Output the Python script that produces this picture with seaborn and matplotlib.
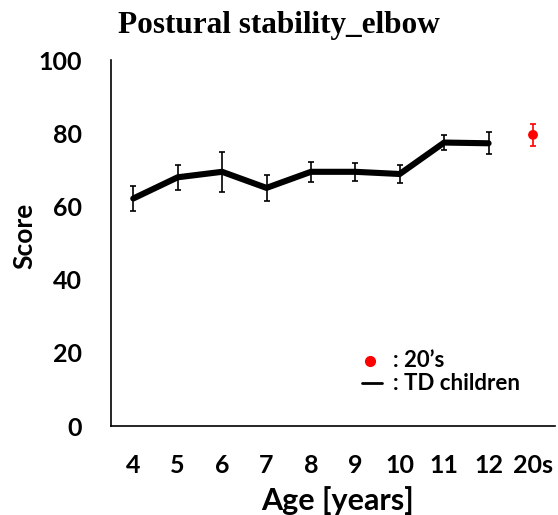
import matplotlib
matplotlib.use("Agg")
import matplotlib.pyplot as plt
import seaborn as sns
import pandas as pd
import numpy as np

ages = ["4", "5", "6", "7", "8", "9", "10", "11", "12"]
td_mean = [62.2, 68.0, 69.5, 65.1, 69.5, 69.5, 68.9, 77.5, 77.3]
td_err = [3.3, 3.4, 5.4, 3.6, 2.7, 2.4, 2.4, 2.0, 3.0]
adult_label = "20s"
adult_mean = [79.6]
adult_err = [3.0]
yticks = [0, 20, 40, 60, 80, 100]

sns.set_theme(style="white")
plt.rcParams['font.family'] = ['Lato', 'DejaVu Sans']
plt.rcParams['text.color'] = 'black'
plt.rcParams['axes.labelcolor'] = 'black'
plt.rcParams['xtick.color'] = 'black'
plt.rcParams['ytick.color'] = 'black'

fig = plt.figure(figsize=(5.58, 5.15), dpi=100)
ax = fig.add_axes([0.199, 0.1728, 0.796, 0.7102])

cats = ages + [adult_label]
pos_td = np.arange(len(ages))
df = pd.DataFrame({"pos": pos_td, "score": td_mean})
sns.lineplot(data=df, x="pos", y="score", color="black", linewidth=4.4, ax=ax, zorder=3)
ax.errorbar(pos_td, td_mean, yerr=td_err, fmt="none", ecolor="black",
            elinewidth=1.2, capsize=2.5, capthick=1.2, zorder=4)

pos_ad = [len(ages)]
dfa = pd.DataFrame({"pos": pos_ad, "score": adult_mean})
ax.errorbar(pos_ad, adult_mean, yerr=adult_err, fmt="none", ecolor="red",
            elinewidth=1.2, capsize=2.5, capthick=1.2, zorder=4)
sns.scatterplot(data=dfa, x="pos", y="score", color="red", s=50, edgecolor="none", ax=ax, zorder=5)

ax.set_xlim(-0.5, len(cats) - 0.5)
ax.set_ylim(0, 100)
ax.set_yticks(yticks)
ax.set_yticklabels([str(v) for v in yticks], fontsize=18, fontweight="bold", color="black")
ax.set_xticks(np.arange(len(cats)))
ax.set_xticklabels(cats, fontsize=18, fontweight="bold", color="black")
ax.set_xticks(np.arange(len(cats) + 1) - 0.5, minor=True)
ax.tick_params(axis="x", which="major", length=0, pad=20)
ax.tick_params(axis="x", which="minor", length=4, width=1.2, direction="out", color="black")
ax.tick_params(axis="y", which="major", length=4, width=1.2, direction="in", color="black", pad=21)

for s in ["top", "right"]:
    ax.spines[s].set_visible(False)
for s in ["left", "bottom"]:
    ax.spines[s].set_color("black")
    ax.spines[s].set_linewidth(1.2)

ax.set_xlabel("Age [years]", fontsize=22, fontweight="bold", color="black")
ax.xaxis.set_label_coords(0.51, -0.165)
ax.set_ylabel("Score", fontsize=19, fontweight="bold", color="black")
ax.yaxis.set_label_coords(-0.169, 0.52)
fig.text(0.5, 0.978, "Postural stability_elbow", ha="center", va="top", color="black",
         fontsize=22.5, fontweight="bold", family=["Liberation Serif"])

# legend drawn as text
ax.plot([5.33], [17.8], marker="o", color="red", markersize=7, linestyle="none", clip_on=False)
ax.text(5.85, 17.8, ": 20\u2019s", fontsize=16, fontweight="bold", va="center", color="black")
ax.plot([5.15, 5.6], [11.7, 11.7], color="black", linewidth=2)
ax.text(5.85, 11.7, ": TD children", fontsize=16, fontweight="bold", va="center", color="black")

fig.savefig("out.png", dpi=100)
